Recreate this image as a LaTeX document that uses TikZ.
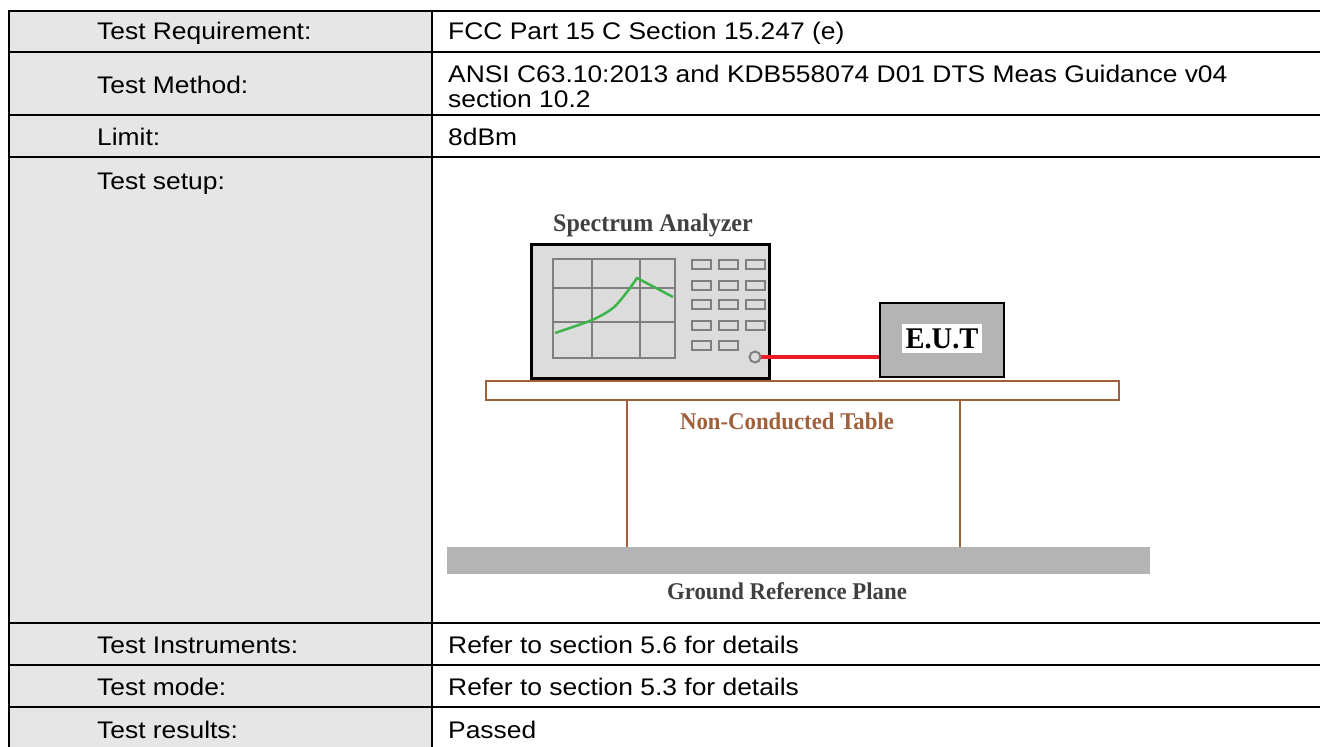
\documentclass[tikz,border=0pt]{standalone}
\usepackage{fontspec}
\setmainfont[FakeStretch=1.1]{Liberation Sans}
\newfontfamily\figfont[FakeStretch=0.95]{Liberation Serif}
\usetikzlibrary{calc}
\definecolor{cellgray}{HTML}{E6E6E6}
\definecolor{boxgray}{HTML}{DCDCDC}
\definecolor{gridgray}{HTML}{7F7F7F}
\definecolor{eutgray}{HTML}{B4B4B4}
\definecolor{tablebrown}{HTML}{A0603C}
\definecolor{curvegreen}{HTML}{3CB44B}
\definecolor{cablered}{HTML}{ED1C24}
\definecolor{textdark}{HTML}{404040}

\begin{document}
\begin{tikzpicture}[x=1pt,y=-1pt,
	rule/.style={line width=2pt},
	lab/.style={anchor=base west,inner sep=0pt,font=\fontsize{24}{24.5}\selectfont},
	gridline/.style={gridgray,line width=2pt},
	btn/.style={draw=gridgray,line width=2pt},
	wood/.style={draw=tablebrown,line width=2pt},
	figtext/.style={font=\figfont\bfseries\fontsize{24}{26}\selectfont,inner sep=0pt}]
	\useasboundingbox (0,0) rectangle (1320,747);
	\begin{scope}
		\clip (0,0) rectangle (1320,747);
		\fill[cellgray] (9,11) rectangle (432,760); %left column
		\foreach \y in {11,52,115,157,623,665,707}
			\draw[rule] (8,\y) -- (1330,\y);
		\draw[rule] (9,10) -- (9,760);
		\draw[rule] (432,10) -- (432,760);
	\end{scope}
	\node[lab] (req) at (97,39.5) {Test Requirement:};
	\node[lab] (reqv) at (448,39.5) {FCC Part 15 C Section 15.247 (e)};
	\node[lab] (meth) at (97,93) {Test Method:};
	\node[lab] (methv) at (448,82.5) {ANSI C63.10:2013 and KDB558074 D01 DTS Meas Guidance v04};
	\node[lab] (methw) at (448,107) {section 10.2};
	\node[lab] (lim) at (97,145) {Limit:};
	\node[lab] (limv) at (448,145) {8dBm};
	\node[lab] (setup) at (97,189) {Test setup:};
	\node[lab] (inst) at (97,653) {Test Instruments:};
	\node[lab] (instv) at (448,653) {Refer to section 5.6 for details};
	\node[lab] (mode) at (97,695) {Test mode:};
	\node[lab] (modev) at (448,695) {Refer to section 5.3 for details};
	\node[lab] (res) at (97,738) {Test results:};
	\node[lab] (resv) at (448,738) {Passed};

	% test setup
	\fill[eutgray] (447,547) rectangle (1150,574); %ground plane
	\draw[wood,fill=white] (486,381) rectangle (1119,400); %table top
	\draw[wood] (627,400) -- (627,547) (960,400) -- (960,547); %legs
	\node[figtext,text=tablebrown] (tbl) at (787,421) {Non-Conducted Table};
	\node[figtext,text=textdark] (grp) at (787,591) {Ground Reference Plane};

	\node[draw=black,line width=3pt,fill=boxgray,minimum width=238pt,minimum height=134pt,inner sep=0pt] (sa) at (650.5,311.5) {};
	\node[figtext,text=textdark,font=\figfont\bfseries\fontsize{25.3}{26}\selectfont] (satitle) at (653,225) {Spectrum Analyzer};
	\draw[gridline] (553,259) rectangle (675,358);
	\draw[gridline] (592,259) -- (592,358) (640,259) -- (640,358)
		(553,288) -- (675,288) (553,322) -- (675,322);
	\draw[curvegreen,line width=2.5pt,line join=round] plot[smooth] coordinates {(555,333) (592,320) (613,308) (627,292) (637,278)} -- (673,297); %trace
	\foreach \y in {260,281,300,321}
		\foreach \x in {692,719,746}
			\draw[btn] (\x,\y) rectangle ++(19,9);
	\foreach \x in {692,719}
		\draw[btn] (\x,341) rectangle ++(19,9);
	\coordinate (port) at (755,357);

	\node[draw=black,line width=2pt,fill=eutgray,minimum width=124pt,minimum height=74pt,inner sep=0pt] (eut) at (942,340) {};
	\node[fill=white,minimum width=80pt,minimum height=29pt,inner sep=0pt,font=\figfont\bfseries\fontsize{30}{32}\selectfont] (eutlab) at (942,338.5) {E.U.T};
	\draw[cablered,line width=4pt] (port) -- (port -| eut.west); %cable
	\draw[gridgray,line width=2pt,fill=boxgray] (port) circle (5.5);
\end{tikzpicture}
\end{document}
